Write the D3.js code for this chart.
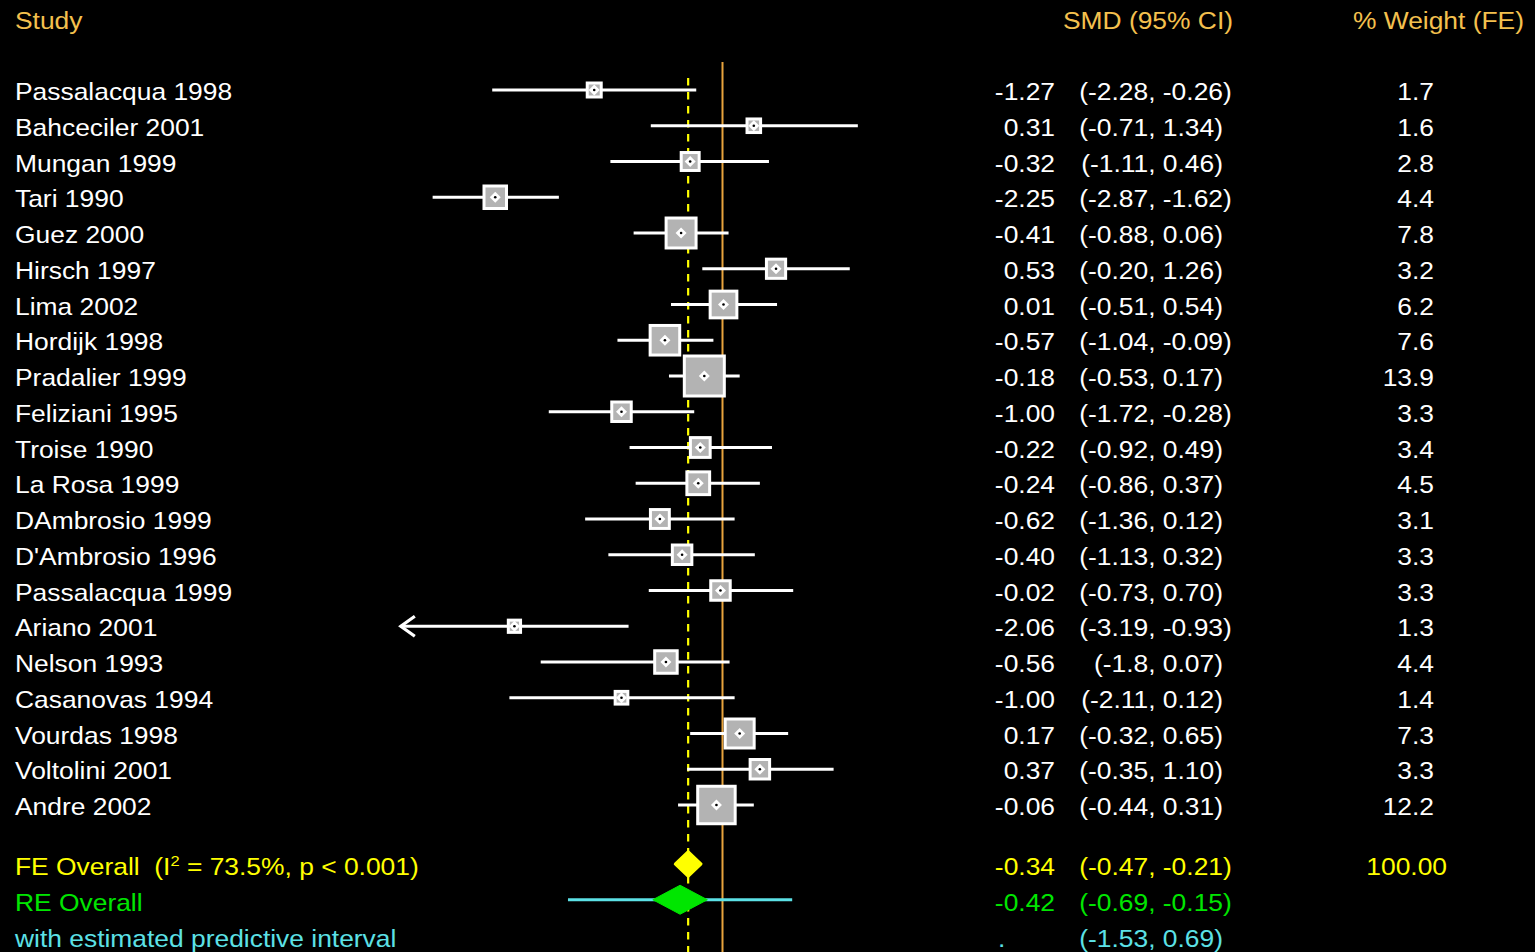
<!DOCTYPE html>
<html>
<head>
<meta charset="utf-8">
<script src="https://cdn.jsdelivr.net/npm/d3@7"></script>
<style>
  html, body { margin: 0; padding: 0; background: #000; }
  svg { display: block; }
  text { font-family: "Liberation Sans", Arial, Helvetica, sans-serif; font-size: 24px; white-space: pre; }
</style>
</head>
<body>
<svg id="chart" width="1535" height="952"></svg>
<script>
// Study-level results: standardised mean difference with 95% CI and fixed-effect weight
const studies = [
  "Passalacqua 1998", "Bahceciler 2001", "Mungan 1999", "Tari 1990", "Guez 2000",
  "Hirsch 1997", "Lima 2002", "Hordijk 1998", "Pradalier 1999", "Feliziani 1995",
  "Troise 1990", "La Rosa 1999", "DAmbrosio 1999", "D'Ambrosio 1996", "Passalacqua 1999",
  "Ariano 2001", "Nelson 1993", "Casanovas 1994", "Vourdas 1998", "Voltolini 2001", "Andre 2002"
];
const smd = [-1.27, 0.31, -0.32, -2.25, -0.41, 0.53, 0.01, -0.57, -0.18, -1.00,
             -0.22, -0.24, -0.62, -0.40, -0.02, -2.06, -0.56, -1.00, 0.17, 0.37, -0.06];
const lowerCI = ["-2.28", "-0.71", "-1.11", "-2.87", "-0.88", "-0.20", "-0.51", "-1.04", "-0.53", "-1.72",
                 "-0.92", "-0.86", "-1.36", "-1.13", "-0.73", "-3.19", "-1.8", "-2.11", "-0.32", "-0.35", "-0.44"];
const upperCI = ["-0.26", "1.34", "0.46", "-1.62", "0.06", "1.26", "0.54", "-0.09", "0.17", "-0.28",
                 "0.49", "0.37", "0.12", "0.32", "0.70", "-0.93", "0.07", "0.12", "0.65", "1.10", "0.31"];
const weightFE = [1.7, 1.6, 2.8, 4.4, 7.8, 3.2, 6.2, 7.6, 13.9, 3.3,
                  3.4, 4.5, 3.1, 3.3, 3.3, 1.3, 4.4, 1.4, 7.3, 3.3, 12.2];

// Pooled estimates
const feEstimate = -0.34, feLower = "-0.47", feUpper = "-0.21", feWeightTotal = "100.00";
const reEstimate = -0.42, reLower = "-0.69", reUpper = "-0.15";
const piLower = "-1.53", piUpper = "0.69";
const heterogeneityI2 = "73.5%", heterogeneityP = "p < 0.001";

const headers = ["Study", "SMD (95% CI)", "% Weight (FE)"];

// Effect-size axis: lower display limit beyond which a CI is truncated with an arrow
const displayMin = -3.185, displayMax = 1.35;

const svg = d3.select("#chart");
svg.append("rect").attr("width", 1535).attr("height", 952).attr("fill", "#000");

const x = d3.scaleLinear().domain([displayMin, displayMax])
  .range([722.5 + displayMin * 101, 722.5 + displayMax * 101]);
const y = d3.scaleLinear().domain([0, 1]).range([90, 125.75]);
const boxSide = d3.scaleSqrt().domain([0, d3.max(weightFE)]).range([0, 40]);

const HEADER = "#f4c04e", WHITE = "#ffffff", FE_COL = "#ffff00", RE_COL = "#00e600", PI_COL = "#5ce1e6";

const rows = studies.map((s, i) => ({
  study: s, est: smd[i], loText: lowerCI[i], hiText: upperCI[i],
  lo: +lowerCI[i], hi: +upperCI[i], w: weightFE[i], i
}));

const yFE = y(21.65), yRE = y(22.65), yPI = y(23.65);

// Reference lines: null effect (solid) and fixed-effect estimate (dashed)
svg.append("line").attr("x1", x(0)).attr("x2", x(0)).attr("y1", 62).attr("y2", 952)
  .attr("stroke", "#e8a33d").attr("stroke-width", 2);
svg.append("line").attr("x1", x(feEstimate)).attr("x2", x(feEstimate)).attr("y1", 78).attr("y2", 952)
  .attr("stroke", FE_COL).attr("stroke-width", 2.2).attr("stroke-dasharray", "7.5,6.5");

// Confidence interval lines
const g = svg.append("g");
g.selectAll("line.ci").data(rows).join("line").attr("class", "ci")
  .attr("x1", d => x(Math.max(d.lo, displayMin))).attr("x2", d => x(d.hi))
  .attr("y1", d => y(d.i)).attr("y2", d => y(d.i))
  .attr("stroke", WHITE).attr("stroke-width", 3);

// Arrow heads for truncated intervals
g.selectAll("path.arrow").data(rows.filter(d => d.lo < displayMin)).join("path").attr("class", "arrow")
  .attr("d", d => {
    const x0 = x(displayMin), y0 = y(d.i);
    return `M${x0 + 14},${y0 - 10} L${x0},${y0} L${x0 + 14},${y0 + 10}`;
  })
  .attr("fill", "none").attr("stroke", WHITE).attr("stroke-width", 3.2);

// Weight boxes
g.selectAll("rect.box").data(rows).join("rect").attr("class", "box")
  .attr("x", d => x(d.est) - boxSide(d.w) / 2).attr("y", d => y(d.i) - boxSide(d.w) / 2)
  .attr("width", d => boxSide(d.w)).attr("height", d => boxSide(d.w))
  .attr("fill", "#b3b3b3").attr("stroke", WHITE).attr("stroke-width", 3);

// Point-estimate markers
g.selectAll("path.pt").data(rows).join("path").attr("class", "pt")
  .attr("d", d => {
    const cx = x(d.est), cy = y(d.i), r = 5.5;
    return `M${cx - r},${cy} L${cx},${cy - r} L${cx + r},${cy} L${cx},${cy + r} Z`;
  })
  .attr("fill", WHITE);
g.selectAll("circle.dot").data(rows).join("circle").attr("class", "dot")
  .attr("cx", d => x(d.est)).attr("cy", d => y(d.i)).attr("r", 1.3).attr("fill", "#000");

// Predictive interval and pooled diamonds
svg.append("line").attr("x1", x(+piLower)).attr("x2", x(+piUpper)).attr("y1", yRE).attr("y2", yRE)
  .attr("stroke", PI_COL).attr("stroke-width", 3.2);

function diamond(lo, est, hi, cy, h) {
  return `M${x(lo)},${cy} L${x(est)},${cy - h} L${x(hi)},${cy} L${x(est)},${cy + h} Z`;
}
svg.append("path").attr("d", diamond(+feLower, feEstimate, +feUpper, yFE, 12.5))
  .attr("fill", FE_COL).attr("stroke", FE_COL).attr("stroke-width", 2.5).attr("stroke-linejoin", "round");
svg.append("path").attr("d", diamond(+reLower, reEstimate, +reUpper, yRE, 14.5))
  .attr("fill", RE_COL).attr("stroke", RE_COL).attr("stroke-width", 1);

// Text columns (glyphs drawn slightly wide, as in the original output device)
const STRETCH = 1.1;
const xStudy = 15, xEst = 1055, xComma = 1155.5, xWeight = 1434;
const T = svg.append("g");

function label(px, py, str, anchor, col) {
  return T.append("text")
    .attr("transform", `translate(${px},${py}) scale(${STRETCH},1)`)
    .attr("dy", "0.36em").attr("text-anchor", anchor || "start")
    .attr("fill", col).text(str);
}

label(xStudy, 20, headers[0], "start", HEADER);
label(1233, 20, headers[1], "end", HEADER);
label(1524, 20, headers[2], "end", HEADER);

function ciText(cy, est, lo, hi, col) {
  if (est !== null) label(xEst, cy, est, "end", col);
  label(xComma, cy, `(${lo},`, "end", col);
  label(xComma, cy, ` ${hi})`, "start", col);
}

rows.forEach(d => {
  const cy = y(d.i) + 1.5;
  label(xStudy, cy, d.study, "start", WHITE);
  ciText(cy, d.est.toFixed(2), d.loText, d.hiText, WHITE);
  label(xWeight, cy, d.w.toFixed(1), "end", WHITE);
});

// Pooled rows
const fe = label(xStudy, yFE + 2.5, "", "start", FE_COL);
fe.append("tspan").text("FE Overall  (I");
fe.append("tspan").attr("font-size", "15px").attr("dy", "-0.6em").text("2");
fe.append("tspan").attr("dy", "0.38em").text(` = ${heterogeneityI2}, ${heterogeneityP})`);
ciText(yFE + 2.5, feEstimate.toFixed(2), feLower, feUpper, FE_COL);
label(1447, yFE + 2.5, feWeightTotal, "end", FE_COL);

label(xStudy, yRE + 2.5, "RE Overall", "start", RE_COL);
ciText(yRE + 2.5, reEstimate.toFixed(2), reLower, reUpper, RE_COL);

label(xStudy, yPI + 2.5, "with estimated predictive interval", "start", PI_COL);
label(998, yPI + 2.5, ".", "start", PI_COL);
ciText(yPI + 2.5, null, piLower, piUpper, PI_COL);
</script>
</body>
</html>
